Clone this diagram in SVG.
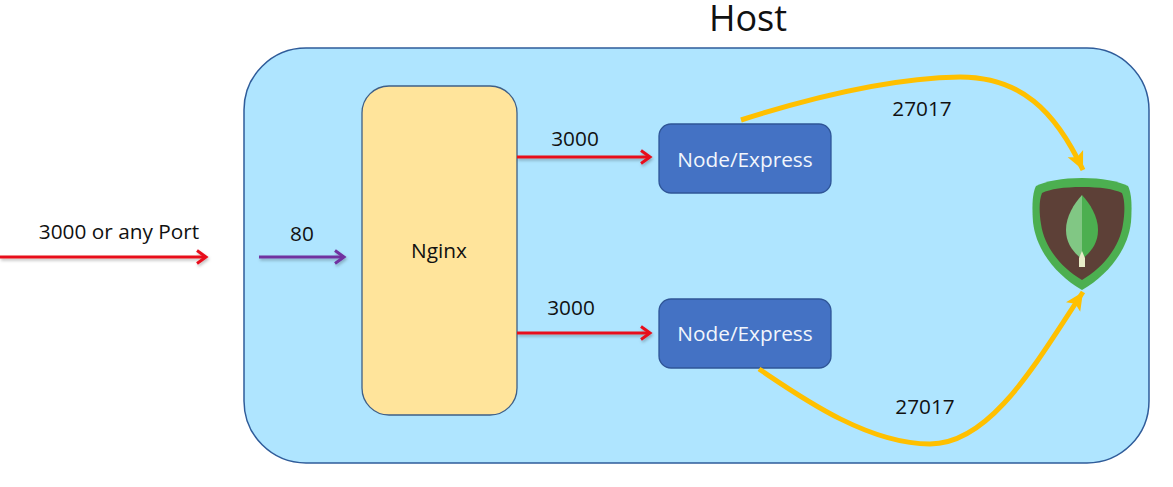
<svg xmlns="http://www.w3.org/2000/svg" width="1173" height="487" viewBox="0 0 1173 487">
<style>
text{font-family:"Open Sans","Noto Sans","Liberation Sans",sans-serif;fill:#111;text-anchor:middle;font-size:20.8px}
text.w{fill:#f2f6fc}
.n{fill:#4472c4;stroke:#2f5597;stroke-width:1.3}
.r{fill:none;stroke:#e8101c;stroke-width:3}
.p{fill:none;stroke:#7030a0;stroke-width:3}
.y{fill:none;stroke:#ffc000;stroke-width:5}
.s{filter:url(#sh)}
</style>
<defs>
<filter id="sh" filterUnits="userSpaceOnUse" x="0" y="0" width="1173" height="487"><feDropShadow dx="1" dy="2" stdDeviation="1.500" flood-color="#000" flood-opacity="0.25"/></filter>
<marker id="ar" markerUnits="userSpaceOnUse" markerWidth="14" markerHeight="16" refX="11" refY="8" orient="auto"><path d="M2 1.500L11 8L2 14.500" fill="none" stroke="#e8101c" stroke-width="3"/></marker>
<marker id="ap" markerUnits="userSpaceOnUse" markerWidth="14" markerHeight="16" refX="11" refY="8" orient="auto"><path d="M2 1.500L11 8L2 14.500" fill="none" stroke="#7030a0" stroke-width="3"/></marker>
<marker id="ay" markerUnits="userSpaceOnUse" markerWidth="20" markerHeight="20" refX="18" refY="10" orient="auto"><path d="M0 1.500L18 10L0 18.500L4 10Z" fill="#ffc000"/></marker>
</defs>
<rect width="1173" height="487" fill="#fff"/>
<g id="host">
<rect x="244" y="48" width="905" height="415" rx="62" fill="#afe5ff" stroke="#2f5c9a" stroke-width="1.5"/>
<text x="748" y="31" style="font-size:36px">Host</text>
</g>
<g id="nginx">
<rect x="362" y="86" width="155" height="329" rx="27" fill="#ffe49b" stroke="#3f5f86" stroke-width="1.3"/>
<text x="439" y="258">Nginx</text>
</g>
<g id="node1">
<rect class="n" x="659" y="124" width="172" height="69" rx="12"/>
<text class="w" x="745" y="167">Node/Express</text>
</g>
<g id="node2">
<rect class="n" x="659" y="299" width="172" height="69" rx="12"/>
<text class="w" x="745" y="341">Node/Express</text>
</g>
<g id="mongodb">
<path d="M1082 178C1102 178 1118 181 1128 186C1132 194 1132 208 1131 222C1128 250 1108 275 1082 290C1056 275 1036 250 1033 222C1032 208 1032 194 1036 186C1046 181 1062 178 1082 178Z" fill="#4caf50"/>
<path d="M1082 187C1100 187 1114 189 1122 193C1125 200 1125 212 1123 224C1120 246 1104 267 1082 280C1060 267 1044 246 1041 224C1039 212 1039 200 1042 193C1050 189 1064 187 1082 187Z" fill="#5d4037"/>
<path d="M1082 195C1074 204 1066 216 1066 230C1066 244 1074 253 1082 259Z" fill="#81c784"/>
<path d="M1082 195C1090 204 1098 216 1098 230C1098 244 1090 253 1082 259Z" fill="#4caf50"/>
<path d="M1079 267L1079 258L1082 251L1085 258L1085 267Z" fill="#e8ecc8"/>
</g>
<g id="connectors">
<path class="r s" d="M0 257H206" marker-end="url(#ar)"/>
<path class="p s" d="M259 257H344" marker-end="url(#ap)"/>
<path class="r s" d="M517 157H650" marker-end="url(#ar)"/>
<path class="r s" d="M517 333H650" marker-end="url(#ar)"/>
<path class="y" d="M741 120C810 98 890 78 960 77C1020 77 1055 110 1083 170" marker-end="url(#ay)"/>
<path class="y" d="M759 369C795 393 865 444 930 444C990 444 1035 365 1083 292" marker-end="url(#ay)"/>
</g>
<g id="labels">
<text x="119" y="239">3000 or any Port</text>
<text x="302" y="241">80</text>
<text x="575" y="146">3000</text>
<text x="571" y="315">3000</text>
<text x="922" y="116">27017</text>
<text x="925" y="414">27017</text>
</g>
</svg>
